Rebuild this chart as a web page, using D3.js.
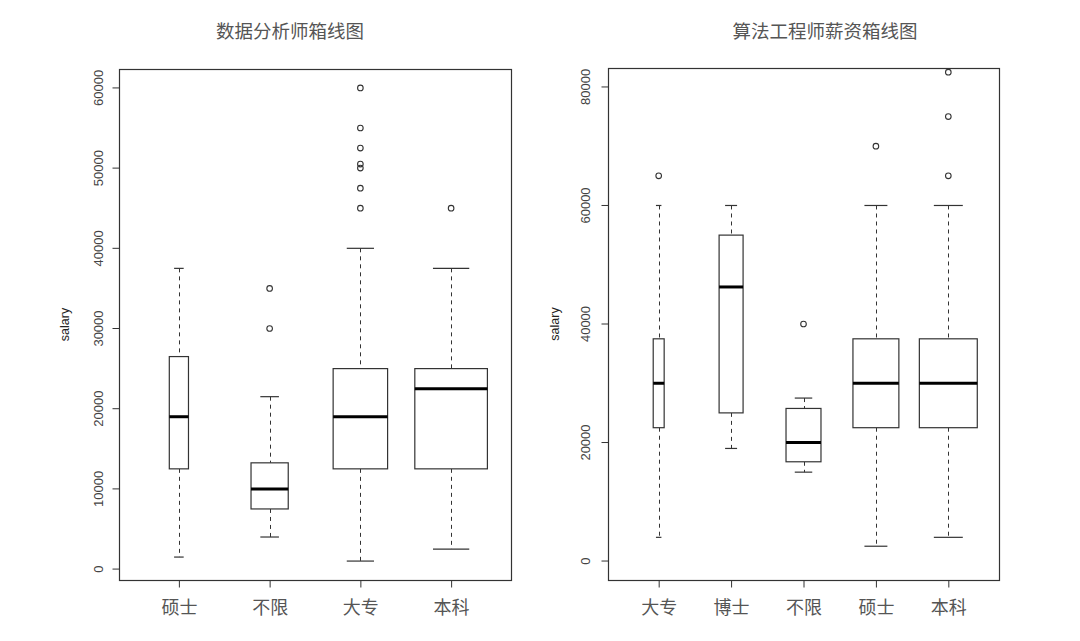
<!DOCTYPE html>
<html lang="zh">
  <head>
    <meta charset="utf-8">
    <title>箱线图</title>
    <script type="text/javascript" src="https://cdn.jsdelivr.net/npm/d3@7"></script>
    <style>
      body { margin: 0; background: #fff; }
      svg { display: block; }
    </style>
  </head>
  <body>
    <script type="text/javascript">
    // 数据分析师 (left panel)
    var leftTitle = "数据分析师箱线图";
    var leftCats = ["硕士", "不限", "大专", "本科"];
    var leftLow  = [1500, 4000, 1000, 2500];
    var leftQ1   = [12500, 7500, 12500, 12500];
    var leftMed  = [19000, 10000, 19000, 22500];
    var leftQ3   = [26500, 13250, 25000, 25000];
    var leftHigh = [37500, 21500, 40000, 37500];
    var leftOut  = [[], [30000, 35000], [45000, 47500, 50000, 50500, 52500, 55000, 60000], [45000]];
    var leftN    = [30, 113, 242, 430];   // group sizes (varwidth)
    var leftTicks = [0, 10000, 20000, 30000, 40000, 50000, 60000];

    // 算法工程师 (right panel)
    var rightTitle = "算法工程师薪资箱线图";
    var rightCats = ["大专", "博士", "不限", "硕士", "本科"];
    var rightLow  = [4000, 19000, 15000, 2500, 4000];
    var rightQ1   = [22500, 25000, 16750, 22500, 22500];
    var rightMed  = [30000, 46250, 20000, 30000, 30000];
    var rightQ3   = [37500, 55000, 25750, 37500, 37500];
    var rightHigh = [60000, 60000, 27500, 60000, 60000];
    var rightOut  = [[65000], [], [40000], [70000], [65000, 75000, 82500]];
    var rightN    = [10, 48, 102, 176, 280];
    var rightTicks = [0, 20000, 40000, 60000, 80000];
    var rightYlim = [0, 80000];

    var w = 1080;
    var h = 641;

    var svg = d3.select("body")
                .append("svg")
                .attr("width", w)
                .attr("height", h);

    var cjk = "'Noto Sans CJK SC', 'Noto Sans', sans-serif";
    var latin = "'Liberation Sans', Arial, sans-serif";

    // build rows for one panel
    var makeRows = function(cats, low, q1, med, q3, high, out, n) {
      return cats.map(function(c, i) {
        return {cat: c, idx: i + 1, low: low[i], q1: q1[i], med: med[i],
                q3: q3[i], high: high[i], out: out[i], n: n[i]};
      });
    };

    var drawPanel = function(p) {
      var rows = p.rows;
      var k = rows.length;
      var g = svg.append("g");

      // R style: range extended by 4% on each side
      var ylo, yhi;
      if (p.ylim) {
        ylo = p.ylim[0]; yhi = p.ylim[1];
      } else {
        var all = [];
        rows.forEach(function(d) { all.push(d.low, d.high); all = all.concat(d.out); });
        ylo = d3.min(all); yhi = d3.max(all);
      }
      var pad = (yhi - ylo) * 0.04;
      var yScale = d3.scaleLinear()
                     .domain([ylo - pad, yhi + pad])
                     .range([p.bottom, p.top]);
      var xpad = k * 0.04;
      var xScale = d3.scaleLinear()
                     .domain([0.5 - xpad, k + 0.5 + xpad])
                     .range([p.left, p.right]);
      var unit = xScale(2) - xScale(1);
      var maxN = d3.max(rows, function(d) { return d.n; });
      var bw = function(d) { return 0.8 * unit * Math.sqrt(d.n / maxN); };

      var clipId = "clip" + p.id;
      g.append("clipPath").attr("id", clipId)
       .append("rect")
       .attr("x", p.left).attr("y", p.top)
       .attr("width", p.right - p.left).attr("height", p.bottom - p.top);

      var plot = g.append("g").attr("clip-path", "url(#" + clipId + ")");

      var box = plot.selectAll("g.box")
                    .data(rows)
                    .enter()
                    .append("g")
                    .attr("class", "box");

      // whiskers (dashed)
      box.append("line")
         .attr("x1", function(d) { return Math.round(xScale(d.idx)) + 0.5; })
         .attr("x2", function(d) { return Math.round(xScale(d.idx)) + 0.5; })
         .attr("y1", function(d) { return yScale(d.high); })
         .attr("y2", function(d) { return yScale(d.q3); })
         .attr("stroke", "#333").attr("stroke-dasharray", "4,4");
      box.append("line")
         .attr("x1", function(d) { return Math.round(xScale(d.idx)) + 0.5; })
         .attr("x2", function(d) { return Math.round(xScale(d.idx)) + 0.5; })
         .attr("y1", function(d) { return yScale(d.q1); })
         .attr("y2", function(d) { return yScale(d.low); })
         .attr("stroke", "#333").attr("stroke-dasharray", "4,4");

      // staples
      ["high", "low"].forEach(function(key) {
        box.append("line")
           .attr("x1", function(d) { return xScale(d.idx) - bw(d) / 4; })
           .attr("x2", function(d) { return xScale(d.idx) + bw(d) / 4; })
           .attr("y1", function(d) { return yScale(d[key]); })
           .attr("y2", function(d) { return yScale(d[key]); })
           .attr("stroke", "#333").attr("stroke-width", 1.2);
      });

      // boxes
      box.append("rect")
         .attr("x", function(d) { return xScale(d.idx) - bw(d) / 2; })
         .attr("y", function(d) { return yScale(d.q3); })
         .attr("width", function(d) { return bw(d); })
         .attr("height", function(d) { return yScale(d.q1) - yScale(d.q3); })
         .attr("fill", "#fff")
         .attr("stroke", "#333")
         .attr("stroke-width", 1.2);

      // medians
      box.append("line")
         .attr("x1", function(d) { return xScale(d.idx) - bw(d) / 2; })
         .attr("x2", function(d) { return xScale(d.idx) + bw(d) / 2; })
         .attr("y1", function(d) { return yScale(d.med); })
         .attr("y2", function(d) { return yScale(d.med); })
         .attr("stroke", "#000").attr("stroke-width", 3);

      // outliers
      box.selectAll("circle")
         .data(function(d) { return d.out.map(function(v) { return {idx: d.idx, v: v}; }); })
         .enter()
         .append("circle")
         .attr("cx", function(d) { return xScale(d.idx); })
         .attr("cy", function(d) { return yScale(d.v); })
         .attr("r", 2.8)
         .attr("fill", "none")
         .attr("stroke", "#333")
         .attr("stroke-width", 1.1);

      // frame
      g.append("rect")
       .attr("x", p.left + 0.5).attr("y", p.top + 0.5)
       .attr("width", p.right - p.left).attr("height", p.bottom - p.top)
       .attr("fill", "none").attr("stroke", "#333").attr("stroke-width", 1.2);

      // y axis
      var yAxis = g.append("g")
                   .attr("transform", "translate(" + (p.left + 0.5) + ",0)")
                   .call(d3.axisLeft(yScale).tickValues(p.ticks).tickSize(7).tickPadding(0).tickFormat(d3.format("d")));
      yAxis.select(".domain").remove();
      yAxis.selectAll("line").attr("stroke", "#333");
      yAxis.selectAll("text")
           .attr("x", null).attr("dy", null)
           .attr("transform", function(d) { return "translate(" + (p.ylab - p.left) + "," + yScale(d) + ") rotate(-90)"; })
           .attr("y", 0)
           .attr("text-anchor", "middle")
           .attr("dominant-baseline", "central")
           .attr("fill", "#444")
           .style("font-size", "13px")
           .style("font-family", latin);
      yAxis.selectAll(".tick").attr("transform", function(d) {
        return "translate(0," + yScale(d) + ")";
      });
      yAxis.selectAll("text").attr("transform", "translate(" + (p.ylab - p.left) + ",0) rotate(-90)");

      // x axis
      var xAxis = g.append("g")
                   .attr("transform", "translate(0," + (p.bottom + 0.5) + ")")
                   .call(d3.axisBottom(xScale)
                           .tickValues(rows.map(function(d) { return d.idx; }))
                           .tickSize(7).tickPadding(14)
                           .tickFormat(function(v) { return rows[v - 1].cat; }));
      xAxis.select(".domain").remove();
      xAxis.selectAll("line").attr("stroke", "#333");
      xAxis.selectAll("text")
           .attr("fill", "#555")
           .style("font-size", "18px")
           .style("font-family", cjk);

      // y label
      g.append("text")
       .attr("transform", "translate(" + p.salaryX + "," + ((p.top + p.bottom) / 2) + ") rotate(-90)")
       .attr("text-anchor", "middle")
       .attr("dominant-baseline", "central")
       .attr("fill", "#222")
       .style("font-size", "12.5px")
       .style("font-family", latin)
       .text("salary");

      // title
      g.append("text")
       .attr("x", p.titleX)
       .attr("y", 30)
       .attr("text-anchor", "middle")
       .attr("dominant-baseline", "central")
       .attr("fill", "#555")
       .style("font-size", "18.5px")
       .style("font-family", cjk)
       .text(p.title);
    };

    drawPanel({
      id: "L",
      rows: makeRows(leftCats, leftLow, leftQ1, leftMed, leftQ3, leftHigh, leftOut, leftN),
      ticks: leftTicks,
      title: leftTitle,
      left: 119, right: 511, top: 69, bottom: 580,
      ylab: 98, salaryX: 65, titleX: 290
    });

    drawPanel({
      id: "R",
      rows: makeRows(rightCats, rightLow, rightQ1, rightMed, rightQ3, rightHigh, rightOut, rightN),
      ticks: rightTicks,
      ylim: rightYlim,
      title: rightTitle,
      left: 608, right: 999, top: 68, bottom: 580,
      ylab: 585, salaryX: 555, titleX: 825
    });
    </script>
  </body>
</html>
